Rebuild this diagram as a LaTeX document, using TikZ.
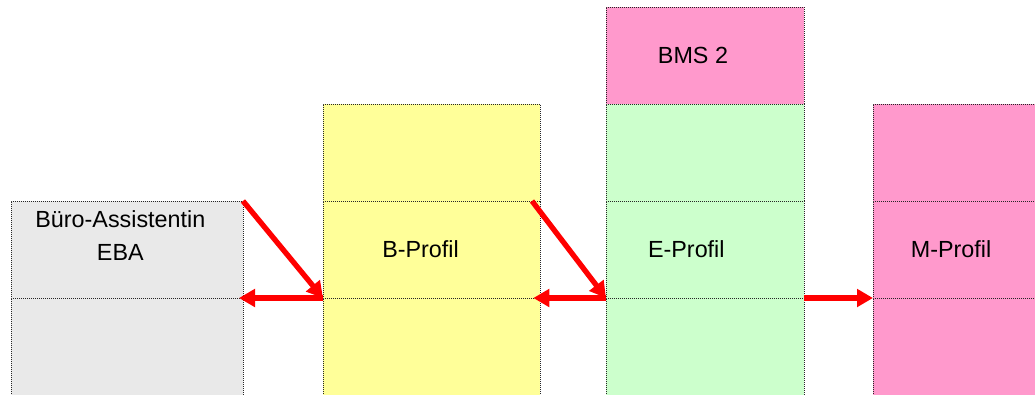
\documentclass[tikz,border=0pt]{standalone}
\usepackage{fontspec}
\setmainfont{Liberation Sans}
\usetikzlibrary{positioning,arrows.meta}

\definecolor{ebagrau}{HTML}{E9E9E9}
\definecolor{bgelb}{HTML}{FFFF99}
\definecolor{egruen}{HTML}{CCFFCC}
\definecolor{mrosa}{HTML}{FF99CC}

\tikzset{
    cell/.style={draw=black!85, dash pattern=on 0.75pt off 0.75pt, line width=0.75pt, minimum height=72.75pt, inner sep=0pt, outer sep=0pt, anchor=north west},
    pfeil/.style={draw=red, line width=4pt, -{Triangle[length=12pt,width=13pt]}, red},
    beschr/.style={font=\fontsize{17.5}{24.75}\selectfont, align=center, inner sep=0pt}
}

\begin{document}
\begin{tikzpicture}[x=0.75pt, y=-0.75pt]
        \useasboundingbox (0,0) rectangle (1035,394);
        \clip (0,0) rectangle (1035,394);
        % Buero-Assistentin EBA
        \node[cell, fill=ebagrau, minimum width=174pt] (eba1) at (11,201) {};
        \node[cell, fill=ebagrau, minimum width=174pt, below=0pt of eba1] (eba2) {};
        % B-Profil
        \node[cell, fill=bgelb, minimum width=162.75pt] (b1) at (323,104) {};
        \node[cell, fill=bgelb, minimum width=162.75pt, below=0pt of b1] (b2) {};
        \node[cell, fill=bgelb, minimum width=162.75pt, below=0pt of b2] (b3) {};
        % BMS 2 und E-Profil
        \node[cell, fill=mrosa, minimum width=148.5pt] (bms) at (606,7) {};
        \node[cell, fill=egruen, minimum width=148.5pt, below=0pt of bms] (e1) {};
        \node[cell, fill=egruen, minimum width=148.5pt, below=0pt of e1] (e2) {};
        \node[cell, fill=egruen, minimum width=148.5pt, below=0pt of e2] (e3) {};
        % M-Profil
        \node[cell, fill=mrosa, minimum width=148.5pt] (m1) at (873,104) {};
        \node[cell, fill=mrosa, minimum width=148.5pt, below=0pt of m1] (m2) {};
        \node[cell, fill=mrosa, minimum width=148.5pt, below=0pt of m2] (m3) {};
        % Beschriftungen
        \node[beschr, anchor=north] (teba) at ([xshift=-5pt, yshift=-6.75pt]eba1.north) {Büro-Assistentin\\EBA};
        \node[beschr] (tb) at ([xshift=-8.25pt]b2.center) {B-Profil};
        \node[beschr] (tbms) at ([xshift=-9pt]bms.center) {BMS 2};
        \node[beschr] (te) at ([xshift=-14pt]e2.center) {E-Profil};
        \node[beschr] (tm) at ([xshift=-15.75pt]m2.center) {M-Profil};
        % Pfeile
        \draw[pfeil] (eba1.north east) -- (b2.south west);
        \draw[pfeil] (b2.south west) -- ([xshift=-3pt]eba1.south east);
        \draw[pfeil] ([xshift=-6pt]b2.north east) -- (e2.south west);
        \draw[pfeil] (e2.south west) -- ([xshift=-5pt]b2.south east);
        \draw[pfeil] (e2.south east) -- (m2.south west);
    \end{tikzpicture}
\end{document}
